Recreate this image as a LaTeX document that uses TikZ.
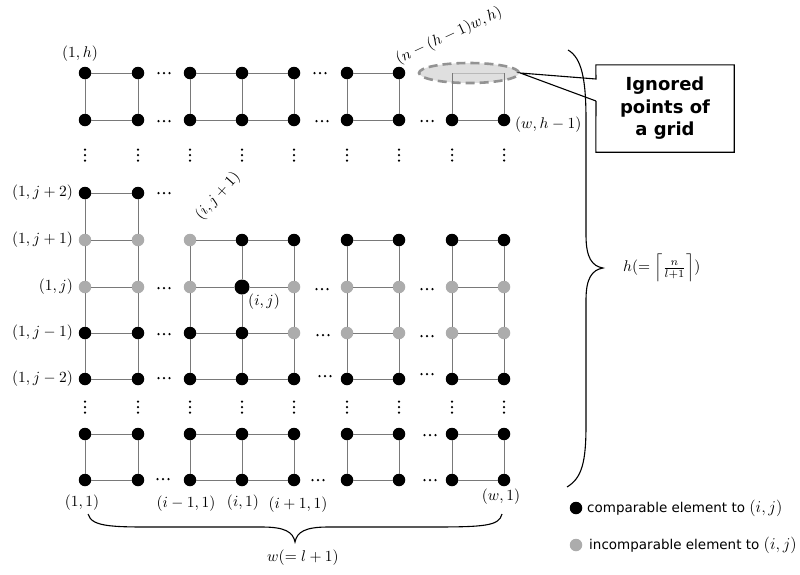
\documentclass[tikz,border=0pt]{standalone}
\usepackage{fontspec}
\newfontfamily\legendfont{DejaVu Sans}
\newfontfamily\calloutfont{DejaVu Sans}
\usetikzlibrary{shapes.geometric}

\tikzset{
  bdot/.style={circle,fill=black,inner sep=0pt,minimum size=12.5pt},
  bigdot/.style={circle,fill=black,inner sep=0pt,minimum size=15pt},
  gdot/.style={circle,fill=gray!65,inner sep=0pt,minimum size=12.5pt},
  ign/.style={coordinate},
  gline/.style={draw=gray!95!black,line width=1pt},
  ignline/.style={draw=gray!55,line width=1pt},
  lbl/.style={inner sep=1pt},
  legtext/.style={font=\legendfont\fontsize{13.5}{16}\selectfont,inner sep=1pt,anchor=west},
  calloutbox/.style={font=\calloutfont\bfseries\fontsize{18}{22.5}\selectfont,align=center,
     minimum width=138pt,minimum height=87pt,inner sep=0pt},
  brace/.style={draw=black,line width=1.1pt},
}
\newcommand\lb[1]{\scalebox{1.55}{$#1$}}
\newcommand\lgm[1]{\scalebox{1.15}{$#1$}}

\newcommand\gridrow[3]{%
  \foreach \s [count=\c] in {#3} {
    \pgfmathsetmacro\xx{{85,138,190,242,294,347,399,452,504}[\c-1]}
    \node[\s] (#1-\c) at (\xx,#2) {};
  }}
\newcommand\hdts[2]{\foreach \k in {-5.5,0,5.5}{\fill (#1+\k,#2) circle (1.25);}}
\newcommand\vdts[2]{\foreach \k in {-5.5,0,5.5}{\fill (#1,#2+\k) circle (1.25);}}

\begin{document}
\begin{tikzpicture}[x=1pt,y=-1pt]
\useasboundingbox (0,0) rectangle (800,574);

% ignored region ellipse
\node[ellipse,minimum width=100pt,minimum height=20pt,fill=gray!25,draw=gray!85,
      line width=2.6pt,dash pattern=on 9pt off 5pt] (ell) at (469,73) {};

% rows of points
\gridrow{T1}{73}{bdot,bdot,bdot,bdot,bdot,bdot,bdot,ign,ign}
\gridrow{T2}{120}{bdot,bdot,bdot,bdot,bdot,bdot,bdot,bdot,bdot}
\gridrow{M1}{193}{bdot,bdot}
\gridrow{M2}{240}{gdot,gdot,gdot,bdot,bdot,bdot,bdot,bdot,bdot}
\gridrow{M3}{287}{gdot,gdot,gdot,bigdot,gdot,gdot,gdot,gdot,gdot}
\gridrow{M4}{333}{bdot,bdot,bdot,bdot,gdot,gdot,gdot,gdot,gdot}
\gridrow{M5}{379}{bdot,bdot,bdot,bdot,bdot,bdot,bdot,bdot,bdot}
\gridrow{B1}{434}{bdot,bdot,bdot,bdot,bdot,bdot,bdot,bdot,bdot}
\gridrow{B2}{480}{bdot,bdot,bdot,bdot,bdot,bdot,bdot,bdot,bdot}

% horizontal edges
\foreach \r in {T2,M2,M3,M4,M5,B1,B2}
  \foreach \a/\b in {1/2,3/4,4/5,6/7,8/9}
    \draw[gline] (\r-\a) -- (\r-\b);
\foreach \a/\b in {1/2,3/4,4/5,6/7}
  \draw[gline] (T1-\a) -- (T1-\b);
\draw[ignline] (T1-8) -- (T1-9);
\draw[gline] (M1-1) -- (M1-2);

% vertical edges
\foreach \c in {1,...,9} {
  \draw[gline] (T1-\c) -- (T2-\c);
  \draw[gline] (M2-\c) -- (M3-\c);
  \draw[gline] (M3-\c) -- (M4-\c);
  \draw[gline] (M4-\c) -- (M5-\c);
  \draw[gline] (B1-\c) -- (B2-\c);
}
\foreach \c in {1,2} \draw[gline] (M1-\c) -- (M2-\c);

% horizontal ellipses
\hdts{164}{73} \hdts{320}{73}
\hdts{164}{121} \hdts{322}{121} \hdts{427}{121}
\hdts{164}{193}
\hdts{164}{288} \hdts{322}{289} \hdts{427}{289}
\hdts{164}{334} \hdts{323}{335} \hdts{427}{336}
\hdts{164}{378} \hdts{325}{376} \hdts{427}{374}
\hdts{430}{435}
\hdts{163}{479} \hdts{318}{480} \hdts{430}{480}

% vertical ellipses
\foreach \x in {85,138,190,242,294,347,399,452,504} {
  \vdts{\x}{155}
  \vdts{\x}{407}
}

% labels
\node[lbl] (l1h) at (80,54) {\lb{(1,h)}};
\node[lbl,rotate=25] (lnh) at (449,36) {\lb{(n-(h-1)w,h)}};
\node[lbl,anchor=west] (lwh) at (514,125) {\lb{(w,h-1)}};
\node[lbl,anchor=east] (lj2) at (74,193) {\lb{(1,j+2)}};
\node[lbl,anchor=east] (lj1) at (74,240) {\lb{(1,j+1)}};
\node[lbl,anchor=east] (lj0) at (74,287) {\lb{(1,j)}};
\node[lbl,anchor=east] (ljm1) at (74,333) {\lb{(1,j-1)}};
\node[lbl,anchor=east] (ljm2) at (74,379) {\lb{(1,j-2)}};
\node[lbl] (lij) at (264,302) {\lb{(i,j)}};
\node[lbl,rotate=48] (lij1) at (218,196) {\lb{(i,j+1)}};
\node[lbl] (l11) at (82,503) {\lb{(1,1)}};
\node[lbl] (lim1) at (186,504) {\lb{(i-1,1)}};
\node[lbl] (li1) at (243,503) {\lb{(i,1)}};
\node[lbl] (lip1) at (298,505) {\lb{(i+1,1)}};
\node[lbl] (lw1) at (501,497) {\lb{(w,1)}};

% braces
\coordinate (bl) at (88,514);
\coordinate (br) at (502,514);
\coordinate (bt) at (295,542);
\draw[brace] (bl) .. controls (92,528) and (115,527) .. (170,527) -- (262,527)
   .. controls (285,527) and (293,532) .. (bt)
   .. controls (297,532) and (305,527) .. (328,527) -- (430,527)
   .. controls (485,527) and (499,526) .. (br);
\node[lbl] (lw) at (303,558) {\lb{w(=l+1)}};

\coordinate (rt) at (568,50);
\coordinate (rb) at (567,487);
\coordinate (rm) at (603,268);
\draw[brace] (rt) .. controls (582,58) and (586,80) .. (586,120) -- (586,235)
   .. controls (586,258) and (592,266) .. (rm)
   .. controls (592,270) and (586,278) .. (586,300) -- (586,425)
   .. controls (586,462) and (582,478) .. (rb);
\node[lbl,anchor=west] (lh) at (622,268) {\lb{h(=\left\lceil\frac{n}{l+1}\right\rceil)}};

% callout
\node[calloutbox] (cb) at (665,108.5) {Ignored\\points of\\a grid};
\coordinate (p1) at (596,79);
\coordinate (p2) at (596,101);
\draw[line width=1.1pt,line join=miter] (p2) -- (cb.south west) -- (cb.south east) -- (cb.north east)
   -- (cb.north west) -- (p1) -- (ell.east) -- (p2);

% legend
\node[bdot] (lg1) at (576,508) {};
\node[legtext] (lt1) at (586,508) {comparable element to \lgm{(i,j)}};
\node[gdot] (lg2) at (576,545) {};
\node[legtext] (lt2) at (588,545) {incomparable element to \lgm{(i,j)}};
\end{tikzpicture}
\end{document}
